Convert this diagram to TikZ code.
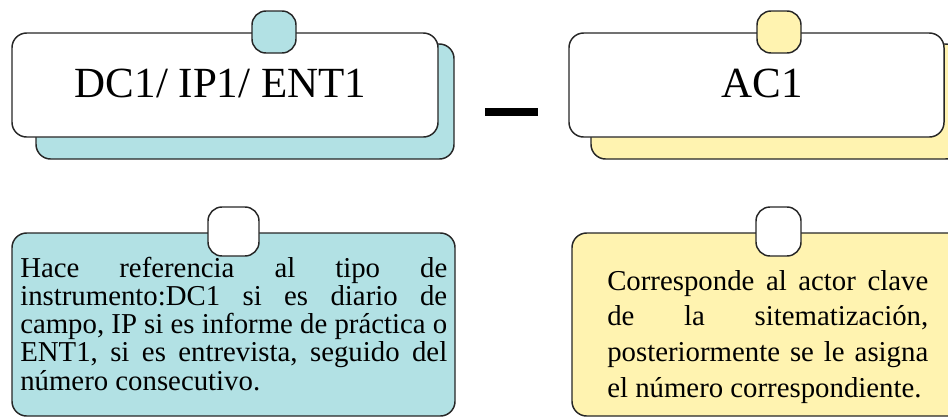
\documentclass[tikz,border=0pt]{standalone}
\usepackage{fontspec}
\setmainfont{Liberation Serif}
\definecolor{tealfill}{RGB}{178,225,228}
\definecolor{yellowfill}{RGB}{255,243,176}
\tikzset{
  card/.style={draw=black!85, line width=1.1pt, rounded corners=11pt, inner sep=0pt, minimum width=#1},
  tabbox/.style={draw=black!85, line width=1.1pt, rounded corners=10.5pt, inner sep=0pt},
  title/.style={font=\fontsize{32.25pt}{36pt}\selectfont, inner sep=0pt, anchor=base},
  body/.style={font=\fontsize{21.6pt}{21.2pt}\selectfont, inner sep=0pt, anchor=base west},
}
\begin{document}
\begin{tikzpicture}[x=0.75pt,y=-0.75pt]
\useasboundingbox (0,0) rectangle (948,419);
\clip (0,0) rectangle (948,419);
% top left
\node[card=313.5pt, minimum height=86.25pt, fill=tealfill] (lshadow) at (245,101.5) {};
\node[card=319.5pt, minimum height=78pt, fill=white] (lbox) at (225,85) {};
\node[tabbox, minimum width=33pt, minimum height=31.5pt, fill=tealfill] (ltab) at (274,32) {};
\node[title] (ltitle) at (220.5,97) {DC1/ IP1/ ENT1};
% top right
\node[card=276.75pt, minimum height=86.25pt, fill=yellowfill] (rshadow) at (775.5,101.5) {};
\node[card=281.25pt, minimum height=78pt, fill=white] (rbox) at (756.5,85) {};
\node[tabbox, minimum width=33pt, minimum height=31.5pt, fill=yellowfill] (rtab) at (779,32) {};
\node[title] (rtitle) at (762.5,97) {AC1};
% dash
\node[fill=black, inner sep=0pt, minimum width=39.75pt, minimum height=6pt] (dash) at (511.5,112) {};
% bottom left
\node[card=332.25pt, minimum height=137.25pt, fill=tealfill] (lnote) at (233.5,324.5) {};
\node[tabbox, minimum width=38.25pt, minimum height=36.75pt, fill=white] (lntab) at (233.5,231.5) {};
\node[body] (ltext) at (20,277) {\vtop{\baselineskip=21.2pt
\hbox to 320.25pt{Hace\hfill referencia\hfill al\hfill tipo\hfill de}
\hbox to 320.25pt{instrumento:DC1\hfill si\hfill es\hfill diario\hfill de}
\hbox to 320.25pt{campo, IP si es informe de práctica o}
\hbox to 320.25pt{ENT1,\hfill si\hfill es\hfill entrevista,\hfill seguido\hfill del}
\hbox{número consecutivo.}}};
% bottom right
\node[card=310.5pt, minimum height=137.25pt, fill=yellowfill] (rnote) at (779,324.5) {};
\node[tabbox, minimum width=33.75pt, minimum height=36.75pt, fill=white] (rntab) at (778.5,231.5) {};
\node[body] (rtext) at (607,290) {\vtop{\baselineskip=26.8pt
\hbox to 240.75pt{Corresponde\hfill al\hfill actor\hfill clave}
\hbox to 240.75pt{de\hfill la\hfill sitematización,}
\hbox to 240.75pt{posteriormente\hfill se\hfill le\hfill asigna}
\hbox{el número correspondiente.}}};
\end{tikzpicture}
\end{document}
